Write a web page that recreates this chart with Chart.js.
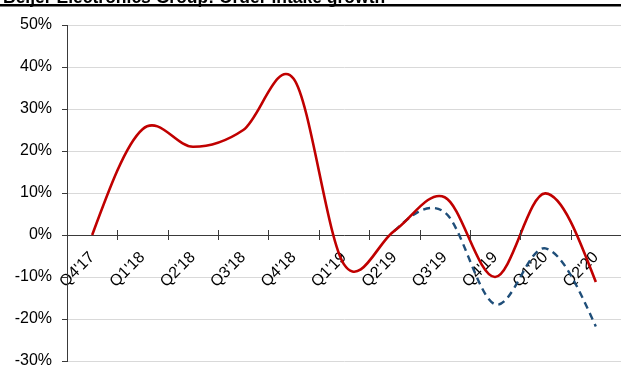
<!DOCTYPE html>
<html>
<head>
<meta charset="utf-8">
<script src="https://cdn.jsdelivr.net/npm/chart.js@4.4.1/dist/chart.umd.min.js"></script>
<style>
  html, body { margin: 0; padding: 0; background: #ffffff; }
  #wrap { width: 621px; height: 368px; position: relative; }
</style>
</head>
<body>
<div id="wrap"><canvas id="chart"></canvas></div>
<script>
// Quarterly order intake growth, in percent
const quarters = ["Q4'17", "Q1'18", "Q2'18", "Q3'18", "Q4'18", "Q1'19", "Q2'19", "Q3'19", "Q4'19", "Q1'20", "Q2'20"];
const reportedGrowth = [0, 25.2, 21.0, 25.0, 37.2, -7.0, 1.0, 9.0, -10.0, 9.9, -11.2];
const organicGrowth = [null, null, null, null, null, null, 1.0, 5.4, -16.5, -3.2, -21.8];
const yTicks = [-30, -20, -10, 0, 10, 20, 30, 40, 50];
const titleText = 'Beijer Electronics Group: Order intake growth';

const FONT = '"Liberation Sans", Arial, sans-serif';

// Smooth curves with Catmull-Rom style control points (1/6 of the neighbour
// chord) and natural end segments.
const smoothCurves = {
  id: 'smoothCurves',
  beforeDatasetsDraw(chart) {
    chart.getSortedVisibleDatasetMetas().forEach(meta => {
      const line = meta.dataset;
      if (!line) return;
      line.updateControlPoints(chart.chartArea, 'x');
      const pts = meta.data;
      const ok = i => i >= 0 && i < pts.length && !pts[i].skip;
      for (let i = 0; i < pts.length; i++) {
        if (!ok(i)) continue;
        const p = pts[i];
        if (ok(i - 1) && ok(i + 1)) {
          const dx = (pts[i + 1].x - pts[i - 1].x) / 6;
          const dy = (pts[i + 1].y - pts[i - 1].y) / 6;
          p.cp1x = p.x - dx; p.cp1y = p.y - dy;
          p.cp2x = p.x + dx; p.cp2y = p.y + dy;
        }
      }
      for (let i = 0; i < pts.length; i++) {
        if (!ok(i)) continue;
        const p = pts[i];
        if (!ok(i - 1) && ok(i + 1)) {
          const n = pts[i + 1];
          p.cp2x = (p.x + n.cp1x) / 2; p.cp2y = (p.y + n.cp1y) / 2;
          p.cp1x = p.x; p.cp1y = p.y;
        }
        if (ok(i - 1) && !ok(i + 1)) {
          const q = pts[i - 1];
          p.cp1x = (p.x + q.cp2x) / 2; p.cp1y = (p.y + q.cp2y) / 2;
          p.cp2x = p.x; p.cp2y = p.y;
        }
      }
    });
  }
};

// Title strip and tick marks that cross the zero axis
const decorations = {
  id: 'decorations',
  afterDraw(chart) {
    const ctx = chart.ctx;
    const xs = chart.scales.x;
    const ys = chart.scales.y;
    const y0 = ys.getPixelForValue(0);
    ctx.save();
    ctx.strokeStyle = '#3a3a3a';
    ctx.lineWidth = 1;
    for (let i = 1; i < quarters.length; i++) {
      const x = Math.round((xs.getPixelForValue(i - 1) + xs.getPixelForValue(i)) / 2) + 0.5;
      ctx.beginPath();
      ctx.moveTo(x, y0 - 5);
      ctx.lineTo(x, y0 + 5);
      ctx.stroke();
    }
    // title, partly above the top edge
    ctx.fillStyle = '#000000';
    ctx.font = 'bold 17.5px ' + FONT;
    ctx.textAlign = 'left';
    ctx.textBaseline = 'alphabetic';
    ctx.fillText(titleText, 3, 3);
    ctx.fillRect(0, 4, chart.width, 2.5);
    ctx.restore();
  }
};

new Chart(document.getElementById('chart'), {
  type: 'line',
  data: {
    labels: quarters,
    datasets: [
      {
        data: reportedGrowth,
        borderColor: '#c00000',
        borderWidth: 2.6,
        pointRadius: 0,
        tension: 0.4,
        fill: false
      },
      {
        data: organicGrowth,
        borderColor: '#1f4e79',
        borderWidth: 2.4,
        borderDash: [7, 5],
        pointRadius: 0,
        tension: 0.4,
        fill: false
      }
    ]
  },
  options: {
    responsive: true,
    maintainAspectRatio: false,
    animation: false,
    layout: { padding: { top: 25, right: 0, bottom: 0, left: 0 } },
    plugins: {
      legend: { display: false },
      tooltip: { enabled: false },
      title: { display: false }
    },
    scales: {
      x: {
        type: 'category',
        position: { y: 0 },
        offset: true,
        afterFit(scale) {
          scale.paddingTop = 0; scale.paddingBottom = 0;
          scale.paddingLeft = 0; scale.paddingRight = 0;
        },
        grid: { display: true, drawOnChartArea: false, drawTicks: false },
        border: { display: true, color: '#3a3a3a', width: 1 },
        ticks: {
          autoSkip: false,
          minRotation: 45,
          maxRotation: 45,
          padding: 13,
          color: '#000000',
          font: { family: FONT, size: 16 }
        }
      },
      y: {
        min: -30,
        max: 50,
        afterBuildTicks(scale) {
          scale.ticks = yTicks.map(v => ({ value: v }));
        },
        afterFit(scale) { scale.width = 67; scale.paddingBottom = 7; },
        grid: {
          color: '#d9d9d9',
          lineWidth: 1,
          tickLength: 5,
          tickColor: '#3a3a3a'
        },
        border: { display: true, color: '#3a3a3a', width: 1 },
        ticks: {
          padding: 10,
          color: '#000000',
          font: { family: FONT, size: 16 },
          callback: v => v + '%'
        }
      }
    }
  },
  plugins: [smoothCurves, decorations]
});
</script>
</body>
</html>
